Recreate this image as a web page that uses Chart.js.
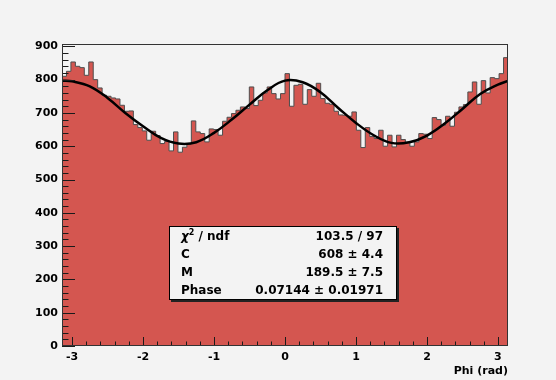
<!DOCTYPE html>
<html>
<head>
<meta charset="utf-8">
<script src="https://cdn.jsdelivr.net/npm/chart.js@4.4.1/dist/chart.umd.min.js"></script>
<style>
  html, body { margin: 0; padding: 0; background: #f3f3f3; }
  #wrap { position: relative; width: 556px; height: 380px; }
  #stats {
    position: absolute; left: 169px; top: 226px; width: 226px; height: 72px;
    border: 1px solid #000; background: #f3f3f3; box-shadow: 2px 2px 0 #222;
    font-family: "DejaVu Sans", sans-serif; font-weight: bold; font-size: 12px; color: #000;
  }
  #stats .row { height: 18px; line-height: 18px; display: flex; justify-content: space-between; padding: 0 13px 0 11px; }
  #stats sup { font-size: 8px; line-height: 0; }
</style>
</head>
<body>
<div id="wrap">
  <canvas id="chart" width="556" height="380"></canvas>
  <div id="stats">
    <div class="row"><span><i>&chi;</i><sup>2</sup> / ndf</span><span>103.5 / 97</span></div>
    <div class="row"><span>C</span><span>608 &plusmn; 4.4</span></div>
    <div class="row"><span>M</span><span>189.5 &plusmn; 7.5</span></div>
    <div class="row"><span>Phase</span><span>0.07144 &plusmn; 0.01971</span></div>
  </div>
</div>
<script>
// 100 bins from -pi to pi, counts
const counts = [
  810, 825, 853, 840, 836, 813, 853, 800, 775, 753,
  750, 745, 742, 723, 705, 706, 665, 656, 646, 618,
  645, 632, 608, 614, 586, 643, 582, 597, 607, 676,
  643, 638, 613, 652, 650, 633, 675, 687, 698, 708,
  718, 713, 778, 722, 738, 760, 778, 758, 742, 758,
  818, 720, 783, 786, 726, 770, 750, 789, 743, 729,
  726, 705, 694, 693, 690, 703, 648, 596, 656, 629,
  623, 648, 600, 633, 598, 633, 620, 612, 600, 613,
  638, 636, 623, 686, 680, 663, 690, 660, 702, 718,
  725, 763, 793, 726, 797, 760, 806, 803, 818, 866
];

// fit curve
const fitPhi = [-3.1416, -3.0, -2.75, -2.5, -2.25, -2.0, -1.75, -1.5, -1.25, -1.0, -0.75, -0.5, -0.25,
  0, 0.25, 0.5, 0.75, 1.0, 1.25, 1.5, 1.75, 2.0, 2.25, 2.5, 2.75, 3.0, 3.1416];
const fitValues = [797, 795, 780, 745, 700, 660, 625, 608, 612, 640, 680, 725, 768,
  797, 792, 762, 715, 670, 633, 610, 612, 632, 668, 712, 757, 785, 796];

const xTicks = [-3, -2, -1, 0, 1, 2, 3];
const yTicks = [0, 100, 200, 300, 400, 500, 600, 700, 800, 900];

const phiMin = -Math.PI;
const phiMax = Math.PI;
const yMax = 907;

document.addEventListener('DOMContentLoaded', function () {

    const binWidth = (phiMax - phiMin) / counts.length;
    const histPoints = counts.map((c, i) => ({x: phiMin + i * binWidth, y: c}));
    histPoints.push({x: phiMax, y: counts[counts.length - 1]});

    const fitPoints = fitPhi.map((p, i) => ({x: p, y: fitValues[i]}));

    // ROOT style frame with ticks pointing inside
    const rootFrame = {
        id: 'rootFrame',
        afterDatasetsDraw(chart) {
            const ctx = chart.ctx;
            const a = chart.chartArea;
            const x = chart.scales.x;
            const y = chart.scales.y;
            ctx.save();
            ctx.strokeStyle = '#1a1a1a';
            ctx.lineWidth = 1;
            ctx.beginPath();
            for (let k = -15; k <= 15; k++) {
                const v = k * 0.2;
                if (v < phiMin || v > phiMax) continue;
                const px = Math.round(x.getPixelForValue(v)) + 0.5;
                const len = k % 5 === 0 ? 9 : 4.5;
                ctx.moveTo(px, a.bottom);
                ctx.lineTo(px, a.bottom - len);
            }
            for (let k = 0; k * 20 <= yMax; k++) {
                const py = Math.round(y.getPixelForValue(k * 20)) + 0.5;
                const len = k % 5 === 0 ? 13 : 6.5;
                ctx.moveTo(a.left, py);
                ctx.lineTo(a.left + len, py);
            }
            ctx.stroke();
            ctx.strokeStyle = '#333';
            ctx.strokeRect(a.left + 0.5, a.top + 0.5, a.right - a.left - 1, a.bottom - a.top - 1);
            ctx.restore();
        }
    };

    const tickFont = {family: 'DejaVu Sans', weight: 'bold', size: 11};

    new Chart(document.getElementById('chart'), {
        type: 'line',
        data: {
            datasets: [
                {
                    data: fitPoints,
                    borderColor: '#000',
                    borderWidth: 2.5,
                    pointRadius: 0,
                    tension: 0.4,
                    fill: false,
                    order: 1
                },
                {
                    data: histPoints,
                    stepped: 'before',
                    borderColor: '#4d4d4d',
                    borderWidth: 1,
                    backgroundColor: '#d45650',
                    pointRadius: 0,
                    fill: 'origin',
                    order: 2
                }
            ]
        },
        options: {
            responsive: false,
            animation: false,
            devicePixelRatio: 1,
            layout: {padding: {left: 0, top: 44, right: 48, bottom: 0}},
            plugins: {legend: {display: false}, tooltip: {enabled: false}},
            scales: {
                x: {
                    type: 'linear',
                    min: phiMin,
                    max: phiMax,
                    grid: {display: false, drawTicks: false},
                    border: {display: false},
                    afterBuildTicks: scale => { scale.ticks = xTicks.map(v => ({value: v})); },
                    afterFit: scale => { scale.height = 34; },
                    ticks: {color: '#000', font: tickFont, padding: 5, maxRotation: 0, autoSkip: false},
                    title: {
                        display: true,
                        text: 'Phi (rad)',
                        align: 'end',
                        color: '#000',
                        font: tickFont,
                        padding: {top: 0, bottom: 2}
                    }
                },
                y: {
                    min: 0,
                    max: yMax,
                    grid: {display: false, drawTicks: false},
                    border: {display: false},
                    afterBuildTicks: scale => { scale.ticks = yTicks.map(v => ({value: v})); },
                    afterFit: scale => { scale.width = 62; },
                    ticks: {color: '#000', font: tickFont, padding: 4}
                }
            }
        },
        plugins: [rootFrame]
    });
});
</script>
</body>
</html>
